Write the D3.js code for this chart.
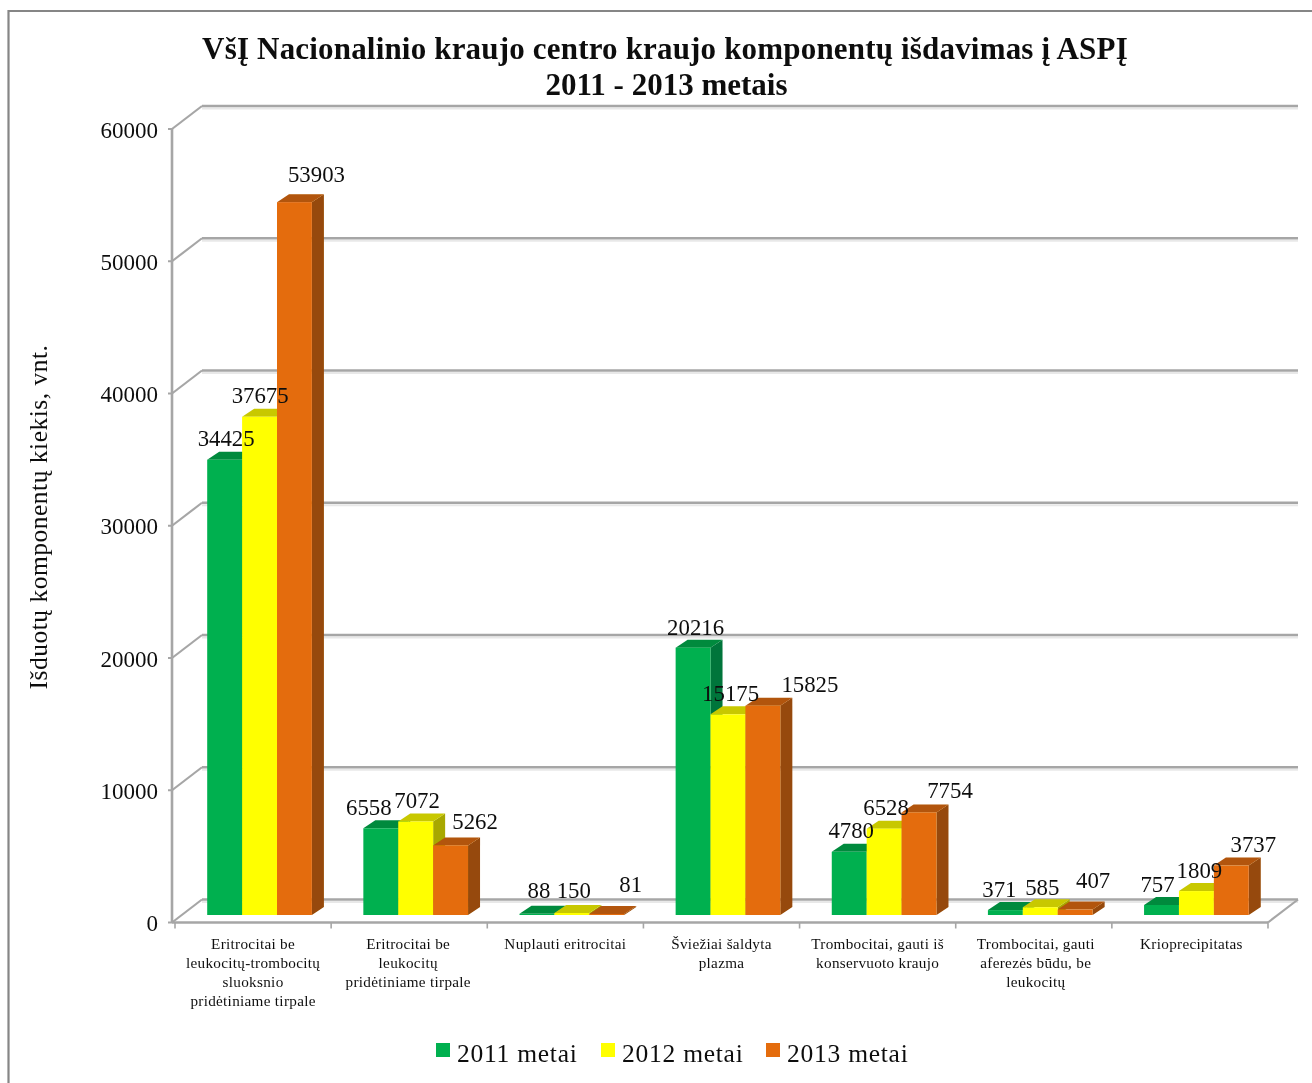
<!DOCTYPE html>
<html><head><meta charset="utf-8">
<script src="https://cdn.jsdelivr.net/npm/d3@7"></script>
<style>html,body{margin:0;padding:0;background:#fff;overflow:hidden}svg{display:block}text{font-family:"Liberation Serif",serif;fill:#111}</style>
</head><body><svg id="c" width="1312" height="1083"></svg>
<script>
const titleLines = ["VšĮ Nacionalinio kraujo centro kraujo komponentų išdavimas į ASPĮ","2011 - 2013 metais"];
const yAxisTitle = "Išduotų komponentų kiekis, vnt.";
const categories = ["c1","c2","c3","c4","c5","c6","c7"];
const categoryLines = [
 ["Eritrocitai be","leukocitų-trombocitų","sluoksnio","pridėtiniame tirpale"],
 ["Eritrocitai be","leukocitų","pridėtiniame tirpale"],
 ["Nuplauti eritrocitai"],
 ["Šviežiai šaldyta","plazma"],
 ["Trombocitai, gauti iš","konservuoto kraujo"],
 ["Trombocitai, gauti","aferezės būdu, be","leukocitų"],
 ["Krioprecipitatas"]];
const seriesNames = ["2011 metai","2012 metai","2013 metai"];
const values2011 = [34425,6558,88,20216,4780,371,757];
const values2012 = [37675,7072,150,15175,6528,585,1809];
const values2013 = [53903,5262,81,15825,7754,407,3737];
const yTicks = [0,10000,20000,30000,40000,50000,60000];
const frontColors = ["#00b050","#ffff00","#e46c0a"];
const topColors = ["#008a3e","#c8c800","#b25408"];
const sideColors = ["#00753a","#a8a800","#964807"];
const labelDx = [[1.5,-12,2,2.5,2,-6,-4],[.6,1.4,2,2.6,2,2,3],[22,24.5,24,47,31,18,22]];
const labelDy = [[-14,-13,-16,-13,-14,-13,-13],[-14,-13.5,-15,-13,-14,-12,-13],[-20,-16,-22,-14,-14,-22,-14]];
const categoryLabelNudge = [0,-1,0,0,0,2,1.5];

const seriesValues = [values2011,values2012,values2013];
const svg = d3.select("#c");
const depth = {x:30,y:-23}, barDepth = {x:12,y:-8};
const x = d3.scaleBand().domain(categories).range([175,1268]);
const xs = d3.scaleBand().domain(d3.range(3)).range([32.2,136.9]);
const y = d3.scaleLinear().domain([0,60000]).range([922.5,129]);
const blur = svg.append("defs").append("filter").attr("id","b").attr("x","-2%").attr("y","-2%").attr("width","104%").attr("height","104%");
blur.append("feGaussianBlur").attr("stdDeviation",0.45);
const root = svg.append("g").attr("filter","url(#b)");
root.append("path").attr("d","M8.5,1083V11H1312").attr("fill","none").attr("stroke","#868686").attr("stroke-width",2.2);

// walls
const gridCol="#a6a6a6";
const grid = root.append("g");
grid.selectAll("line.s").data(yTicks).join("line").attr("x1",202).attr("x2",1298).attr("y1",d=>y(d)+depth.y+2.5).attr("y2",d=>y(d)+depth.y+2.5).attr("stroke","#e8e8e8").attr("stroke-width",2);
grid.selectAll("line.g").data(yTicks).join("line").attr("x1",202).attr("x2",1298).attr("y1",d=>y(d)+depth.y).attr("y2",d=>y(d)+depth.y).attr("stroke",gridCol).attr("stroke-width",2.6);
grid.selectAll("line.d").data(yTicks).join("line").attr("x1",172).attr("x2",202).attr("y1",d=>y(d)).attr("y2",d=>y(d)+depth.y).attr("stroke",gridCol).attr("stroke-width",2.2);
grid.selectAll("line.t").data(yTicks).join("line").attr("x1",168).attr("x2",172).attr("y1",d=>y(d)).attr("y2",d=>y(d)).attr("stroke",gridCol).attr("stroke-width",2);
grid.append("line").attr("x1",172).attr("x2",172).attr("y1",y(60000)).attr("y2",y(0)).attr("stroke",gridCol).attr("stroke-width",2.6);
grid.append("line").attr("x1",172).attr("x2",1268).attr("y1",y(0)).attr("y2",y(0)).attr("stroke",gridCol).attr("stroke-width",2.6);
grid.append("line").attr("x1",1268).attr("x2",1298).attr("y1",y(0)).attr("y2",y(0)+depth.y).attr("stroke",gridCol).attr("stroke-width",2.2);
const cticks=[...categories.map(c=>x(c)),x.range()[1]];
grid.selectAll("line.ct").data(cticks).join("line").attr("x1",d=>d).attr("x2",d=>d).attr("y1",y(0)).attr("y2",y(0)+6).attr("stroke",gridCol).attr("stroke-width",1.6);

// bars
const baseShift=-7.5;
const barW=xs.bandwidth();
categories.forEach((c,ci)=>{
  const g=root.append("g");
  seriesValues.forEach((vals,si)=>{
    const v=vals[ci], x0=x(c)+xs(si), x1=x0+barW, yt=y(v)+baseShift, yb=y(0)+baseShift;
    const dx=barDepth.x, dy=barDepth.y;
    g.append("path").attr("fill",sideColors[si]).attr("d",`M${x1},${yt}L${x1+dx},${yt+dy}L${x1+dx},${yb+dy}L${x1},${yb}Z`);
    g.append("path").attr("fill",topColors[si]).attr("d",`M${x0},${yt}L${x0+dx},${yt+dy}L${x1+dx},${yt+dy}L${x1},${yt}Z`);
    g.append("rect").attr("x",x0).attr("y",yt).attr("width",barW).attr("height",yb-yt).attr("fill",frontColors[si]);
  });
});

// text
const t = root.append("g");
t.selectAll("text.yt").data(yTicks).join("text").attr("x",158).attr("y",d=>y(d)+8.5).attr("text-anchor","end").attr("font-size",23).text(d=>d);
t.append("text").attr("transform","translate(47,517) rotate(-90)").attr("text-anchor","middle").attr("font-size",25.5).attr("letter-spacing",.5).text(yAxisTitle);
t.selectAll("text.ti").data(titleLines).join("text").attr("x",(d,i)=>665+i*1.5).attr("y",(d,i)=>59+i*36).attr("text-anchor","middle").attr("font-size",31).attr("letter-spacing",(d,i)=>i?0:.18).attr("font-weight","bold").text(d=>d);
categories.forEach((c,ci)=>{
  t.append("g").selectAll("text").data(categoryLines[ci]).join("text").attr("x",x(c)+x.bandwidth()/2+categoryLabelNudge[ci]).attr("y",(d,i)=>949+i*19).attr("text-anchor","middle").attr("font-size",15.2).attr("letter-spacing",.3).text(d=>d);
  seriesValues.forEach((vals,si)=>{
    t.append("text").attr("x",x(c)+xs(si)+barW/2+labelDx[si][ci]).attr("y",y(vals[ci])+baseShift+labelDy[si][ci]).attr("text-anchor","middle").attr("font-size",22.8).text(vals[ci]);
  });
});
const legendX=d3.scaleOrdinal().domain(seriesNames).range([436,601,766]);
const lg=t.append("g");
lg.selectAll("rect").data(seriesNames).join("rect").attr("x",d=>legendX(d)).attr("y",1043).attr("width",14).attr("height",14).attr("fill",(d,i)=>frontColors[i]);
lg.selectAll("text").data(seriesNames).join("text").attr("x",d=>legendX(d)+21).attr("y",1062).attr("font-size",25.5).attr("letter-spacing",.75).text(d=>d);
</script></body></html>
